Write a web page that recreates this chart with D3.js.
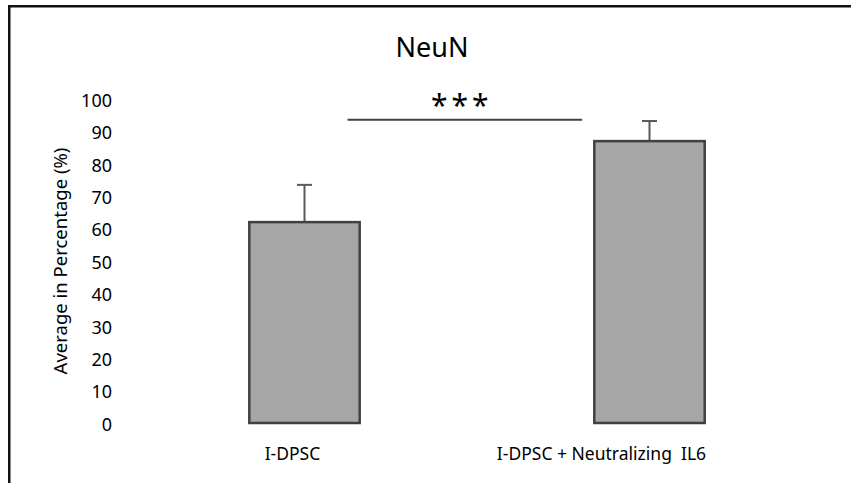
<!DOCTYPE html>
<html><head><meta charset="utf-8">
<script src="https://cdn.jsdelivr.net/npm/d3@7"></script>
<style>body{margin:0;background:#fff;} svg{display:block;} text{font-family:"Noto Sans","Open Sans",sans-serif;}</style>
</head><body>
<svg id="c" width="851" height="483"></svg>
<script>
const categories = ["I-DPSC", "I-DPSC + Neutralizing  IL6"];
const means = [62, 87];
const errors = [11.5, 6.2];
const yTicks = [0, 10, 20, 30, 40, 50, 60, 70, 80, 90, 100];
const labelOffsets = [-12, -48];
const sigPair = [0, 1];
const sigLevel = 93.6;
const sigText = "***";
const title = "NeuN";
const yLabel = "Average in Percentage (%)";

const svg = d3.select("#c");
// outer frame (cropped on right/bottom)
svg.append("rect").attr("x", 9.25).attr("y", 6.25).attr("width", 900).attr("height", 600)
  .attr("fill", "none").attr("stroke", "#111").attr("stroke-width", 2.5);

const x = d3.scaleBand().domain(categories).range([132, 822]).paddingInner(0.68).paddingOuter(0.34);
const y = d3.scaleLinear().domain([0, 100]).range([423, 99]);

// title
svg.append("text").attr("x", 432).attr("y", 57).attr("text-anchor", "middle")
  .attr("font-size", 27).attr("fill", "#000").text(title);

// y axis (labels only)
const yAxis = d3.axisLeft(y).tickValues(yTicks).tickSize(0).tickPadding(0);
const ga = svg.append("g").attr("transform", "translate(112,0)").call(yAxis);
ga.select(".domain").remove();
ga.selectAll("text").attr("font-size", 18).attr("fill", "#000")
  .attr("font-family", "'Noto Sans','Open Sans',sans-serif").attr("dy", "0.4em");

// y label
svg.append("text").attr("transform", `translate(67,${(y(0)+y(100))/2})`+" rotate(-90)")
  .attr("text-anchor", "middle").attr("font-size", 18.5).attr("fill", "#000").text(yLabel);

// error bars
const eb = svg.append("g").attr("stroke", "#595959").attr("stroke-width", 2);
categories.forEach((c, i) => {
  const cx = x(c) + x.bandwidth() / 2;
  eb.append("line").attr("x1", cx).attr("x2", cx).attr("y1", y(means[i])).attr("y2", y(means[i] + errors[i]));
  eb.append("line").attr("x1", cx - 7.5).attr("x2", cx + 7.5).attr("y1", y(means[i] + errors[i])).attr("y2", y(means[i] + errors[i]));
});

// bars
svg.append("g").selectAll("rect").data(categories).join("rect")
  .attr("x", d => x(d)).attr("width", x.bandwidth())
  .attr("y", (d, i) => y(means[i])).attr("height", (d, i) => y(0) - y(means[i]))
  .attr("fill", "#a6a6a6").attr("stroke", "#404040").attr("stroke-width", 2.5);

// x labels
svg.append("g").selectAll("text").data(categories).join("text")
  .attr("x", (d, i) => x(d) + x.bandwidth() / 2 + labelOffsets[i]).attr("y", 460)
  .attr("text-anchor", "middle").attr("font-size", 17.5).attr("fill", "#000")
  .style("white-space", "pre").text(d => d);

// significance
const sx1 = x(categories[sigPair[0]]) + x.bandwidth() * 0.89;
const sx2 = x(categories[sigPair[1]]) - x.bandwidth() * 0.11;
svg.append("line").attr("x1", sx1).attr("x2", sx2).attr("y1", y(sigLevel)).attr("y2", y(sigLevel))
  .attr("stroke", "#404040").attr("stroke-width", 2.2);
svg.append("text").attr("x", (sx1 + sx2) / 2 - 3).attr("y", y(sigLevel) - 4)
  .attr("text-anchor", "middle").attr("font-size", 30).attr("letter-spacing", 4).attr("fill", "#000").text(sigText);
</script>
</body></html>
